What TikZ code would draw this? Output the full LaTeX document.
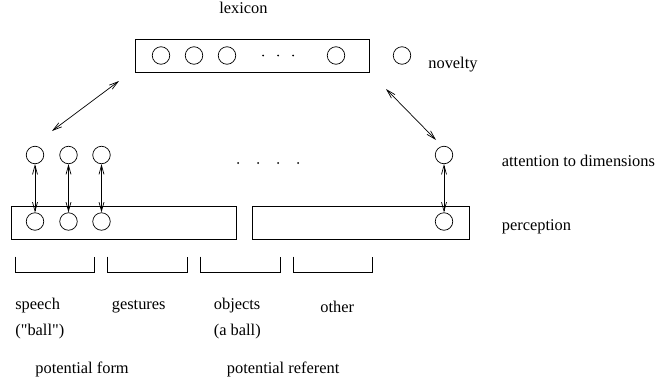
\documentclass[tikz,border=0pt]{standalone}
\usepackage{fontspec}
\setmainfont{Liberation Serif}
\usetikzlibrary{arrows.meta}

\begin{document}
\begin{tikzpicture}[x=1pt, y=-1pt, line width=0.7pt,
    font=\fontsize{16.4}{19}\selectfont,
    unit/.style={draw, circle, minimum size=17.5pt, inner sep=0pt},
    bar/.style={draw, rectangle, inner sep=0pt, minimum height=33pt},
    lbl/.style={anchor=base west, inner sep=0pt},
    dot/.style={fill, circle, minimum size=2pt, inner sep=0pt},
    >={Straight Barb[length=9pt,width=5pt]}]

    \useasboundingbox (0,0) rectangle (658,391);

    % lexicon
    \node[lbl] (lextxt) at (219, 13) {lexicon};
    \node[bar, minimum width=234pt] (lex) at (252, 55.5) {};
    \node[unit] (w1) at (161, 55.5) {};
    \node[unit] (w2) at (194, 55.5) {};
    \node[unit] (w3) at (227, 55.5) {};
    \node[dot] (ld1) at (263, 55.5) {};
    \node[dot] (ld2) at (278, 55.5) {};
    \node[dot] (ld3) at (293, 55.5) {};
    \node[unit] (w4) at (336, 55.5) {};
    \node[unit] (nov) at (402, 55.5) {};
    \node[lbl] (novtxt) at (428, 68) {novelty};

    % attention and perception
    \node[unit] (a1) at (35, 155) {};
    \node[unit] (a2) at (68.5, 155) {};
    \node[unit] (a3) at (101.5, 155) {};
    \node[unit] (a4) at (444, 155) {};
    \node[dot] (md1) at (238, 163) {};
    \node[dot] (md2) at (258, 163) {};
    \node[dot] (md3) at (278, 163) {};
    \node[dot] (md4) at (298, 163) {};
    \node[lbl] (atttxt) at (501.5, 166.5) {attention to dimensions};

    \node[bar, minimum width=225pt] (perc1) at (123.5, 222.5) {};
    \node[bar, minimum width=217pt] (perc2) at (361, 222.5) {};
    \node[unit] (p1) at (35, 221.5) {};
    \node[unit] (p2) at (68.5, 221.5) {};
    \node[unit] (p3) at (101.5, 221.5) {};
    \node[unit] (p4) at (444, 221.5) {};
    \node[lbl] (perctxt) at (501.5, 230) {perception};

    \coordinate (la1) at (119, 81);
    \coordinate (la2) at (52, 131);
    \coordinate (ra1) at (386, 89);
    \coordinate (ra2) at (436, 140);

    \draw [<->] (la1) to (la2);
    \draw [<->] (ra1) to (ra2);
    \foreach \i in {1,2,3,4}
        \draw [<->] (a\i) to (p\i);

    % brackets
    \foreach \l/\r in {15/94.5, 107.5/187, 200.5/280, 293.5/372.5}
        \draw (\l, 256.5) -- (\l, 272.5) -- (\r, 272.5) -- (\r, 256.5);

    \node[lbl] (sp) at (15, 309.5) {speech};
    \node[lbl] (spb) at (15, 335) {(\textquotedbl ball\textquotedbl)};
    \node[lbl] (ge) at (111.5, 309.5) {gestures};
    \node[lbl] (ob) at (213.5, 309.5) {objects};
    \node[lbl] (obb) at (213.5, 335) {(a ball)};
    \node[lbl] (ot) at (320, 312) {other};
    \node[lbl] (pf) at (35, 373.5) {potential form};
    \node[lbl] (pr) at (226.5, 373.5) {potential referent};

  \end{tikzpicture}
\end{document}
